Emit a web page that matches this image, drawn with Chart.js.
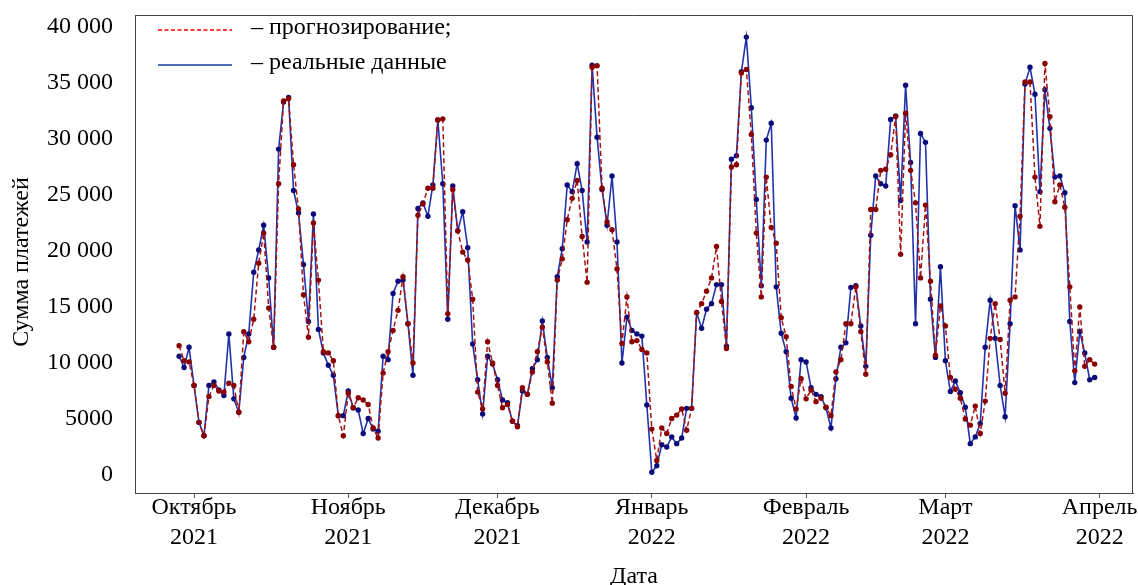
<!DOCTYPE html>
<html><head><meta charset="utf-8">
<script src="https://cdn.jsdelivr.net/npm/chart.js@4"></script>
<style>html,body{margin:0;padding:0;background:#fff}</style>
</head><body>
<canvas id="c" width="1138" height="585"></canvas>
<script>
// first data point is 28 Sep 2021 (day -3 relative to 1 Oct 2021); one value per day
const startDay = -3;

const realValues = [
  10600, 9600, 11400, 8000, 4700, 3500, 8000, 8300, 7600, 7100,
  12600, 6800, 5600, 10500, 12600, 18100, 20100, 22300, 17600, 11400,
  29100, 33300, 33700, 25400, 23400, 18800, 13700, 23300, 13000, 10900,
  9800, 8900, 5300, 5300, 7500, 6000, 5800, 3700, 5050, 4100,
  3900, 10600, 10300, 16200, 17300, 17400, 13500, 8900, 23800, 24300,
  23100, 25900, 31700, 26000, 13900, 25800, 21800, 23500, 20300, 11700,
  8500, 5450, 10600, 9900, 8500, 6700, 6450, 4800, 4400, 7500,
  7200, 9500, 10300, 13750, 10500, 7800, 17700, 20200, 25900, 25300,
  27800, 25400, 20800, 36600, 30150, 25500, 22300, 26700, 20800, 10000,
  14100, 12900, 12600, 12400, 6250, 240, 830, 2700, 2500, 3400,
  2800, 3300, 5950, 5950, 14500, 13100, 14800, 15300, 17000, 17000,
  11500, 28200, 28500, 36000, 39100, 32800, 24600, 16900, 29900, 31400,
  16800, 12650, 11000, 6850, 5100, 10300, 10100, 7800, 7200, 7000,
  6000, 4200, 8600, 11400, 11800, 16750, 16900, 13300, 9700, 21400,
  26700, 26000, 25800, 31750, 32050, 24500, 34800, 27900, 13500, 30500,
  29700, 15700, 10500, 18600, 10200, 7450, 8400, 7350, 6050, 2800,
  3400, 4600, 11400, 15600, 12200, 8000, 5200, 13500, 24050, 20100,
  34900, 36400, 34000, 25300, 34400, 30950, 26600, 26700, 25200, 13700,
  8250, 12800, 10900, 8500, 8700
];

const forecastValues = [
  11550, 10200, 10100, 8000, 4700, 3500, 7000, 8000, 7500, 7400,
  8200, 8000, 5600, 12800, 11900, 13900, 18900, 21600, 14900, 11400,
  26000, 33400, 33600, 27700, 23750, 16100, 12300, 22500, 17400, 11000,
  10900, 10200, 5300, 3500, 7300, 6000, 6900, 6700, 6300, 4200,
  3300, 9100, 11000, 12900, 14700, 17700, 13500, 10000, 23200, 24200,
  25600, 25600, 31700, 31800, 14400, 25500, 21800, 19900, 19200, 15700,
  7400, 5900, 11900, 10000, 8000, 6000, 6300, 4800, 4300, 7800,
  7200, 9200, 11000, 13200, 10100, 6400, 17400, 19300, 22800, 24700,
  26300, 21300, 17200, 36400, 36550, 25600, 22600, 21900, 18400, 11750,
  15900, 11900, 12000, 11200, 10900, 4100, 1300, 4200, 3700, 5050,
  5350, 5900, 4000, 5950, 14500, 15300, 16400, 17600, 20400, 15500,
  11300, 27500, 27700, 35900, 36200, 30400, 21600, 15900, 26600, 22100,
  20700, 14050, 12350, 7900, 5900, 8600, 6800, 7600, 6550, 6850,
  6050, 5300, 9200, 10300, 13500, 13500, 16800, 12800, 9000, 23700,
  23700, 27200, 27300, 28600, 32000, 19700, 32300, 27200, 24300, 17600,
  24100, 17300, 10700, 15100, 13300, 8700, 7650, 6850, 5000, 4450,
  6150, 3700, 6600, 12200, 15300, 12100, 7300, 15600, 15900, 23100,
  35100, 35100, 26600, 22200, 36750, 32000, 24400, 25900, 23900, 16800,
  9300, 15000, 9700, 10300, 9900
];

const monthTickDays = [0, 31, 61, 92, 123, 151, 182];
const monthTickLabels = [
  ["Октябрь", "2021"], ["Ноябрь", "2021"], ["Декабрь", "2021"],
  ["Январь", "2022"], ["Февраль", "2022"], ["Март", "2022"], ["Апрель", "2022"]
];
const yTickValues = [0, 5000, 10000, 15000, 20000, 25000, 30000, 35000, 40000];
const legendLabels = ["– прогнозирование;", "– реальные данные"];
const xTitle = "Дата";
const yTitle = "Сумма платежей";

const days = realValues.map((_, i) => startDay + i);
const FONT = "'Liberation Serif', 'Times New Roman', serif";

function fmt(v) {
  if (v >= 10000) {
    const s = String(v);
    return s.slice(0, s.length - 3) + " " + s.slice(s.length - 3);
  }
  return String(v);
}

const framePlugin = {
  id: 'frame',
  beforeDatasetsDraw(chart) {
    const {ctx, chartArea: a} = chart;
    ctx.save();
    ctx.strokeStyle = '#444';
    ctx.lineWidth = 1;
    ctx.beginPath();
    ctx.moveTo(a.left, a.top + 0.5);
    ctx.lineTo(a.right - 0.5, a.top + 0.5);
    ctx.lineTo(a.right - 0.5, a.bottom);
    ctx.stroke();
    ctx.restore();
  }
};

const legendPlugin = {
  id: 'customLegend',
  afterDraw(chart) {
    const {ctx, chartArea: a} = chart;
    ctx.save();
    ctx.lineWidth = 1.5;
    ctx.strokeStyle = '#ff0000';
    ctx.setLineDash([4, 2.5]);
    ctx.beginPath();
    ctx.moveTo(a.left + 23, a.top + 15);
    ctx.lineTo(a.left + 97, a.top + 15);
    ctx.stroke();
    ctx.setLineDash([]);
    ctx.lineWidth = 2;
    ctx.strokeStyle = '#4a6db5';
    ctx.beginPath();
    ctx.moveTo(a.left + 23, a.top + 50);
    ctx.lineTo(a.left + 97, a.top + 50);
    ctx.stroke();
    ctx.fillStyle = '#000';
    ctx.font = '24px ' + FONT;
    ctx.textBaseline = 'middle';
    ctx.textAlign = 'left';
    ctx.fillText(legendLabels[0], a.left + 116, a.top + 13);
    ctx.fillText(legendLabels[1], a.left + 116, a.top + 48);
    // y axis title
    ctx.translate(22, (a.top + a.bottom) / 2 + 8);
    ctx.rotate(-Math.PI / 2);
    ctx.textAlign = 'center';
    ctx.fillText(yTitle, 0, 0);
    ctx.restore();
  }
};

new Chart(document.getElementById('c'), {
  type: 'line',
  data: {
    datasets: [
      {
        label: legendLabels[0],
        data: days.map((d, i) => ({x: d, y: forecastValues[i]})),
        borderColor: '#a51212',
        borderWidth: 1.5,
        borderDash: [5, 3],
        pointRadius: 2.7,
        pointBackgroundColor: '#8b0000',
        pointBorderWidth: 0,
        tension: 0
      },
      {
        label: legendLabels[1],
        data: days.map((d, i) => ({x: d, y: realValues[i]})),
        borderColor: '#2233aa',
        borderWidth: 1.6,
        pointRadius: 2.7,
        pointBackgroundColor: '#0b0b7a',
        pointBorderWidth: 0,
        tension: 0
      }
    ]
  },
  options: {
    responsive: false,
    animation: false,
    devicePixelRatio: 1,
    layout: {padding: {top: 15, right: 5, left: 0, bottom: 0}},
    plugins: {legend: {display: false}, tooltip: {enabled: false}},
    scales: {
      x: {
        type: 'linear',
        min: -11.86,
        max: 188.7,
        afterBuildTicks: s => { s.ticks = monthTickDays.map(v => ({value: v})); },
        afterFit: s => { s.height = 92; s.paddingLeft = 0; s.paddingRight = 0; },
        ticks: {
          autoSkip: false, maxRotation: 0, minRotation: 0, padding: -5, color: '#000',
          font: {family: FONT, size: 24, lineHeight: 1.25},
          callback: v => { const i = monthTickDays.indexOf(v); return i >= 0 ? monthTickLabels[i] : ''; }
        },
        grid: {display: true, drawOnChartArea: false, drawTicks: true, tickLength: 5, color: '#555'},
        border: {display: true, color: '#444', width: 1},
        title: {display: true, text: xTitle, color: '#000', font: {family: FONT, size: 24, lineHeight: 1}, padding: {top: 0, bottom: -4}}
      },
      y: {
        min: -1607,
        max: 41071,
        afterBuildTicks: s => { s.ticks = yTickValues.map(v => ({value: v})); },
        afterFit: s => { s.width = 135; s.paddingTop = 0; s.paddingBottom = 0; },
        ticks: {padding: 22, color: '#000', font: {family: FONT, size: 24}, callback: v => fmt(v)},
        grid: {display: false, drawTicks: false},
        border: {display: true, color: '#444', width: 1},
        title: {display: false}
      }
    }
  },
  plugins: [framePlugin, legendPlugin]
});
</script>
</body></html>
